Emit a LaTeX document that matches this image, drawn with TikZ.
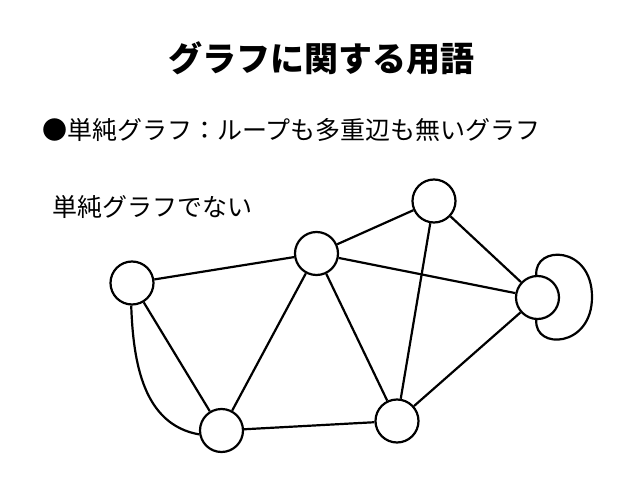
\documentclass[tikz,border=0pt]{standalone}
\usepackage{fontspec}
\newfontfamily\cjk{Noto Sans CJK JP}
\begin{document}
\begin{tikzpicture}[x=1pt,y=-1pt,
  vert/.style={circle,draw,line width=2.2pt,minimum size=43pt,inner sep=0pt,fill=white},
  edge/.style={line width=2.2pt},
  txt/.style={inner sep=0pt,font=\cjk\fontsize{25}{30}\selectfont}]
\useasboundingbox (0,0) rectangle (638,479);
\node[inner sep=0pt,anchor=base,font=\cjk\bfseries\fontsize{34}{40}\selectfont] (title) at (321,71.5) {グラフに関する用語};
\node[txt,anchor=base west] (bullet) at (42,139) {●単純グラフ：ループも多重辺も無いグラフ};
\node[txt,anchor=base west] (label) at (52,216) {単純グラフでない};
\node[vert] (A) at (132,283) {};
\node[vert] (B) at (316.5,253.5) {};
\node[vert] (C) at (434,201) {};
\node[vert] (D) at (537.5,297.5) {};
\node[vert] (E) at (221.5,430.5) {};
\node[vert] (F) at (397,421) {};
\begin{scope}[on background layer/.style={}]
\draw[edge] (A) -- (B);
\draw[edge] (A) -- (E);
\draw[edge] (A.-92) to[out=-88,in=170] (E.190);
\draw[edge] (B) -- (C);
\draw[edge] (B) -- (D);
\draw[edge] (B) -- (E);
\draw[edge] (B) -- (F);
\draw[edge] (C) -- (D);
\draw[edge] (C) -- (F);
\draw[edge] (D) -- (F);
\draw[edge] (E) -- (F);
\draw[edge] (D.93) .. controls (534,245) and (592,245) .. (592,297)
  .. controls (592,348) and (534,350) .. (D.-93);
\end{scope}
\end{tikzpicture}
\end{document}
